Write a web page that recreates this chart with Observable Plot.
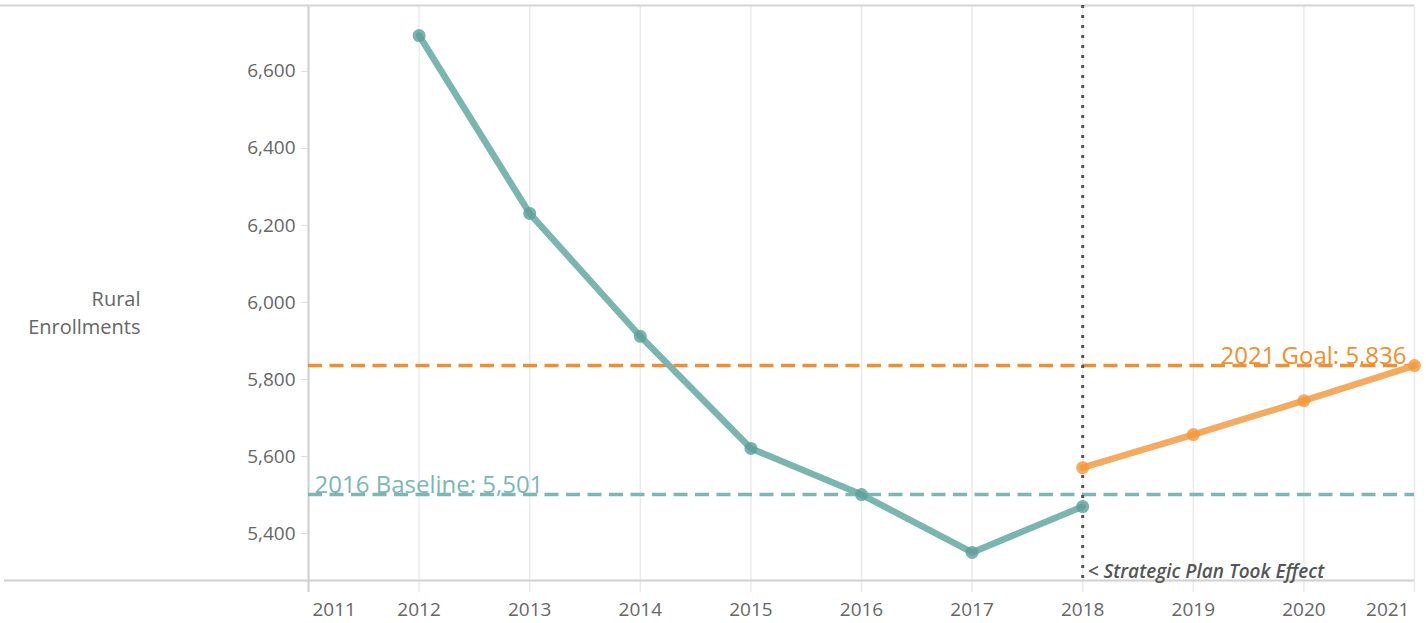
<!DOCTYPE html>
<html>
<head>
<meta charset="utf-8">
<script src="https://cdn.jsdelivr.net/npm/d3@7"></script>
<script src="https://cdn.jsdelivr.net/npm/@observablehq/plot@0.6"></script>
<style>
  html, body { margin: 0; padding: 0; background: #fff; }
  #chart svg { display: block; }
</style>
</head>
<body>
<div id="chart"></div>
<script>
// ---- data ----
const actualYears = [2012, 2013, 2014, 2015, 2016, 2017, 2018];
const actualValues = [6693, 6231, 5912, 5621, 5501, 5351, 5470];
const goalYears = [2018, 2019, 2020, 2021];
const goalValues = [5571, 5657, 5745, 5836];
const baselineValue = 5501;
const goalValue = 5836;
const planYear = 2018;
const xTicks = [2011, 2012, 2013, 2014, 2015, 2016, 2017, 2018, 2019, 2020, 2021];
const yTicks = [5400, 5600, 5800, 6000, 6200, 6400, 6600];
const yDomain = [5278, 6771];
const xDomain = [2011, 2021];
const baselineLabel = "2016 Baseline: 5,501";
const goalLabel = "2021 Goal: 5,836";
const planLabel = "< Strategic Plan Took Effect";
const yTitle = "Rural\nEnrollments";

const actual = actualYears.map((y, i) => ({year: y, value: actualValues[i]}));
const goal = goalYears.map((y, i) => ({year: y, value: goalValues[i]}));

const teal = "#7ab5af", tealDot = "#5c9f98", tealDash = "#7bb8b2";
const orange = "#f5ab5f", orangeDot = "#f5973a", orangeDash = "#f28e2b";
const gray = "#666";
const yearText = d => String(d);

const chart = Plot.plot({
  width: 1426,
  height: 623,
  marginLeft: 308,
  marginRight: 12,
  marginTop: 5,
  marginBottom: 43,
  style: {fontFamily: "'Open Sans', sans-serif", fontSize: "19px", color: gray, background: "#fff"},
  x: {domain: xDomain, axis: null},
  y: {domain: yDomain, axis: null},
  marks: [
    // vertical gridlines
    Plot.ruleX(xTicks, {stroke: "#ebebeb", strokeWidth: 1.5, insetBottom: -12}),
    // left axis line
    Plot.ruleX([xDomain[0]], {stroke: "#cfcfcf", strokeWidth: 2, insetBottom: -12}),
    // top border
    Plot.ruleY([yDomain[1]], {stroke: "#d4d4d4", strokeWidth: 2, insetLeft: -308}),
    // bottom axis line
    Plot.ruleY([yDomain[0]], {stroke: "#d0d0d0", strokeWidth: 2, insetLeft: -304}),
    // y axis
    Plot.axisY(yTicks, {label: null, tickSize: 7, tickPadding: 6, stroke: "#dcdcdc", fill: gray, fontSize: 19, tickFormat: d3.format(",")}),
    // x tick labels
    Plot.text(xTicks.slice(1, -1), {x: d => d, text: yearText, frameAnchor: "bottom", dy: 35, lineAnchor: "bottom", fill: gray, fontSize: 19}),
    Plot.text(xTicks.slice(0, 1), {x: d => d, text: yearText, frameAnchor: "bottom", dy: 35, lineAnchor: "bottom", textAnchor: "start", dx: 4, fill: gray, fontSize: 19}),
    Plot.text(xTicks.slice(-1), {x: d => d, text: yearText, frameAnchor: "bottom", dy: 35, lineAnchor: "bottom", textAnchor: "end", dx: -5, fill: gray, fontSize: 19}),
    // y title
    Plot.text([yTitle], {frameAnchor: "left", dx: -168, dy: 18, textAnchor: "end", lineHeight: 1.4, fill: gray, fontSize: 20}),
    // reference lines
    Plot.ruleY([goalValue], {stroke: orangeDash, strokeWidth: 3.5, strokeDasharray: "14,7.5"}),
    Plot.ruleY([baselineValue], {stroke: tealDash, strokeWidth: 3.5, strokeDasharray: "14,7.5"}),
    Plot.ruleX([planYear], {stroke: "#555", strokeWidth: 3, strokeDasharray: "3,7"}),
    // series
    Plot.line(actual, {x: "year", y: "value", stroke: teal, strokeWidth: 6.5}),
    Plot.dot(actual, {x: "year", y: "value", r: 6.5, fill: tealDot, fillOpacity: 0.8}),
    Plot.line(goal, {x: "year", y: "value", stroke: orange, strokeWidth: 6.5}),
    Plot.dot(goal, {x: "year", y: "value", r: 6.5, fill: orangeDot, fillOpacity: 0.8}),
    // annotations
    Plot.text([baselineValue], {y: d => d, frameAnchor: "left", dx: 6, dy: -2, textAnchor: "start", lineAnchor: "bottom", text: () => baselineLabel, fill: tealDash, fontSize: 24}),
    Plot.text([goalValue], {y: d => d, frameAnchor: "right", dx: -8, dy: -2, textAnchor: "end", lineAnchor: "bottom", text: () => goalLabel, fill: orangeDash, fontSize: 24}),
    Plot.text([planYear], {x: d => d, frameAnchor: "bottom", dx: 5, dy: -3, textAnchor: "start", lineAnchor: "bottom", text: () => planLabel, fill: "#555", fontSize: 19, fontStyle: "italic", fontWeight: 600})
  ]
});
document.getElementById("chart").appendChild(chart);
</script>
</body>
</html>
